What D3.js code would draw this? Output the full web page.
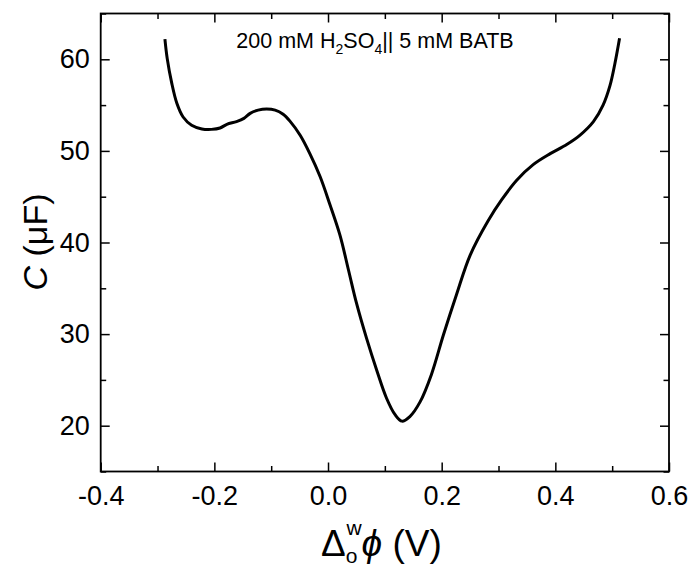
<!DOCTYPE html>
<html>
<head>
<meta charset="utf-8">
<script src="https://cdn.jsdelivr.net/npm/d3@7"></script>
<style>
  body { margin: 0; background: #fff; }
  text { font-family: Arial, "Liberation Sans", sans-serif; fill: #000; }
</style>
</head>
<body>
<script>
// potential (V) and capacitance (uF)
var potential = [-0.287, -0.283, -0.275, -0.266, -0.255, -0.240, -0.222, -0.205, -0.190, -0.178,
                 -0.161, -0.148, -0.137, -0.123, -0.108, -0.093, -0.079, -0.067, -0.049, -0.032,
                 -0.014, 0.003, 0.021, 0.036, 0.050, 0.068, 0.086, 0.103, 0.118, 0.130,
                 0.144, 0.162, 0.182, 0.203, 0.226, 0.250, 0.282, 0.306, 0.332, 0.361,
                 0.391, 0.420, 0.443, 0.467, 0.484, 0.496, 0.505, 0.513];
var capacitance = [62.2, 60.1, 57.4, 55.2, 53.7, 52.8, 52.4, 52.35, 52.5, 52.9,
                   53.2, 53.55, 54.1, 54.45, 54.57, 54.45, 54.0, 53.25, 51.7, 49.7,
                   47.2, 44.2, 40.8, 37.0, 33.4, 29.5, 26.0, 23.0, 21.2, 20.5,
                   21.0, 22.6, 25.6, 29.9, 34.3, 38.6, 42.4, 44.7, 46.8, 48.5,
                   49.7, 50.7, 51.7, 53.2, 55.0, 57.1, 59.6, 62.3];
// tick values
var xTicks = [-0.4, -0.2, 0.0, 0.2, 0.4, 0.6];
var xMinor = [-0.3, -0.1, 0.1, 0.3, 0.5];
var yTicks = [20, 30, 40, 50, 60];
var yMinor = [15, 25, 35, 45, 55, 65];

var svg = d3.select("body").append("svg")
  .attr("width", 692)
  .attr("height", 572);

var x = d3.scaleLinear().domain([-0.4, 0.6]).range([100.7, 669]);
var y = d3.scaleLinear().domain([15, 65]).range([471.5, 13.5]);

var major = 9, minor = 5.5;
var fmtX = d => d3.format(".1f")(d).replace("\u2212", "-");

// ticks on all four sides, pointing inward
var axB = svg.append("g").attr("transform", "translate(0," + y(15) + ")");
axB.call(d3.axisBottom(x).tickValues(xTicks).tickSize(-major).tickPadding(14).tickFormat(fmtX));
axB.append("g").call(d3.axisBottom(x).tickValues(xMinor).tickSize(-minor).tickFormat(""));

var axT = svg.append("g").attr("transform", "translate(0," + y(65) + ")");
axT.call(d3.axisTop(x).tickValues(xTicks).tickSize(-major).tickFormat(""));
axT.append("g").call(d3.axisTop(x).tickValues(xMinor).tickSize(-minor).tickFormat(""));

var axL = svg.append("g").attr("transform", "translate(" + x(-0.4) + ",0)");
axL.call(d3.axisLeft(y).tickValues(yTicks).tickSize(-major).tickPadding(11));
axL.append("g").call(d3.axisLeft(y).tickValues(yMinor).tickSize(-minor).tickFormat(""));

var axR = svg.append("g").attr("transform", "translate(" + x(0.6) + ",0)");
axR.call(d3.axisRight(y).tickValues(yTicks).tickSize(-major).tickFormat(""));
axR.append("g").call(d3.axisRight(y).tickValues(yMinor).tickSize(-minor).tickFormat(""));

svg.selectAll(".domain").remove();
svg.selectAll(".tick line").attr("stroke", "#000").attr("stroke-width", 1.5);
svg.selectAll(".tick text")
   .attr("font-size", 27)
   .attr("font-family", "Arial, 'Liberation Sans', sans-serif");

// frame
svg.append("rect")
   .attr("x", x(-0.4))
   .attr("y", y(65))
   .attr("width", x(0.6) - x(-0.4))
   .attr("height", y(15) - y(65))
   .attr("fill", "none")
   .attr("stroke", "#000")
   .attr("stroke-width", 1.8);

// curve
var line = d3.line()
  .x(d => x(d[0]))
  .y(d => y(d[1]))
  .curve(d3.curveCatmullRom);

svg.append("path")
   .datum(d3.zip(potential, capacitance))
   .attr("fill", "none")
   .attr("stroke", "#000")
   .attr("stroke-width", 3)
   .attr("stroke-linejoin", "round")
   .attr("d", line);

// annotation
var note = svg.append("text")
   .attr("x", 375)
   .attr("y", 48)
   .attr("text-anchor", "middle")
   .attr("font-size", 21.5);
note.append("tspan").text("200 mM H");
note.append("tspan").attr("font-size", 14).attr("dy", 6).text("2");
note.append("tspan").attr("dy", -6).text("SO");
note.append("tspan").attr("font-size", 14).attr("dy", 6).text("4");
note.append("tspan").attr("dy", -6).text("|| 5 mM BATB");

// y label
var ylab = svg.append("text")
   .attr("transform", "translate(47,242) rotate(-90)")
   .attr("text-anchor", "middle")
   .attr("font-size", 34);
ylab.append("tspan").attr("font-style", "italic").text("C");
ylab.append("tspan").text(" (\u03BCF)");

// x label
var xlab = svg.append("text")
   .attr("x", 321)
   .attr("y", 556)
   .attr("font-size", 37);
xlab.append("tspan").text("\u0394");
xlab.append("tspan").attr("font-size", 21).attr("dy", 7).text("o");
xlab.append("tspan").attr("font-size", 21).attr("dx", -11).attr("dy", -28).text("w");
xlab.append("tspan").attr("font-style", "italic").attr("dx", 0).attr("dy", 21).text("\u03D5");
xlab.append("tspan").text(" (V)");
</script>
</body>
</html>
